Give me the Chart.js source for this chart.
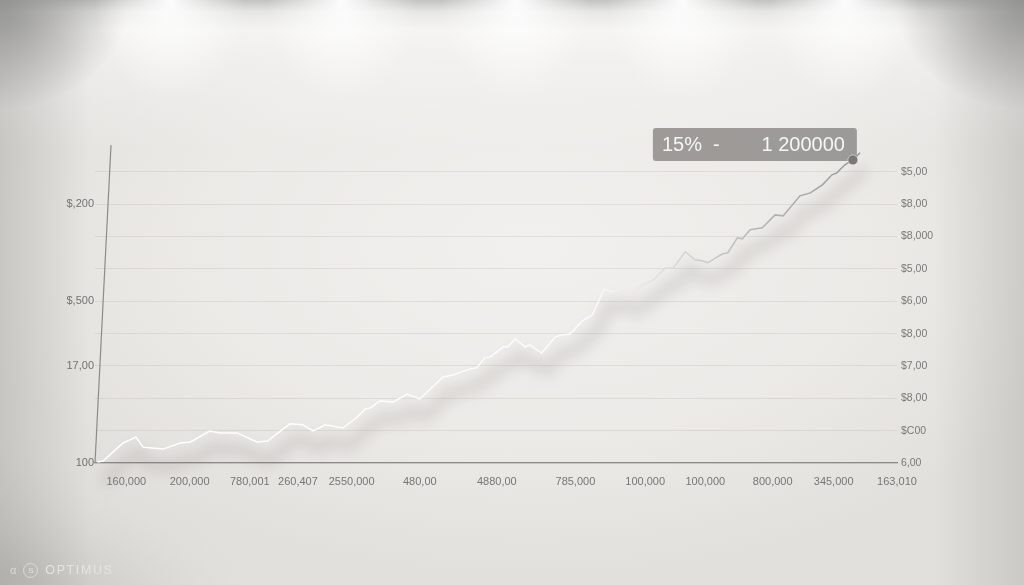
<!DOCTYPE html>
<html>
<head>
<meta charset="utf-8">
<script src="https://cdn.jsdelivr.net/npm/chart.js@4.4.1/dist/chart.umd.min.js"></script>
<style>
  html, body { margin: 0; padding: 0; }
  body {
    width: 1024px; height: 585px; overflow: hidden; position: relative;
    background-color: #e2e0dd;
    background-image:
      radial-gradient(ellipse 75px 100px at 170px 0px, rgba(255,255,255,0.95), rgba(255,255,255,0) 100%),
      radial-gradient(ellipse 75px 100px at 342px 0px, rgba(255,255,255,0.95), rgba(255,255,255,0) 100%),
      radial-gradient(ellipse 75px 100px at 516px 0px, rgba(255,255,255,0.95), rgba(255,255,255,0) 100%),
      radial-gradient(ellipse 75px 100px at 682px 0px, rgba(255,255,255,0.95), rgba(255,255,255,0) 100%),
      radial-gradient(ellipse 75px 100px at 845px 0px, rgba(255,255,255,0.95), rgba(255,255,255,0) 100%),
      linear-gradient(to bottom, rgba(150,150,150,0.55) 0px, rgba(170,170,170,0.2) 12px, rgba(200,200,200,0) 30px),
      radial-gradient(ellipse 130px 110px at 0px 0px, rgba(120,120,120,0.75), rgba(120,120,120,0) 100%),
      radial-gradient(ellipse 130px 110px at 1024px 0px, rgba(120,120,120,0.75), rgba(120,120,120,0) 100%),
      linear-gradient(to right, rgba(150,148,145,0.35) 0px, rgba(150,148,145,0) 90px),
      linear-gradient(to left, rgba(150,148,145,0.3) 0px, rgba(150,148,145,0) 90px),
      linear-gradient(to bottom, rgba(250,250,249,0.9) 0px, rgba(246,245,243,0.6) 60px, rgba(245,244,242,0) 150px),
      radial-gradient(ellipse 75% 75% at 52% 42%, #f1f0ee 0%, #eceae7 45%, #e2e0dd 75%, rgba(214,212,208,0) 100%),
      radial-gradient(ellipse 240px 150px at 0px 585px, rgba(185,183,179,0.85), rgba(185,183,179,0) 100%);
  }
  #wrap { position: absolute; left: 0; top: 0; width: 1024px; height: 585px; }
  #mark {
    position: absolute; left: 10px; top: 561px; height: 18px;
    font-family: "Liberation Sans", Arial, sans-serif; font-size: 12.5px;
    letter-spacing: 1.6px; color: #e6e4e1; display: flex; align-items: center;
  }
  #mark .ic { display: inline-block; width: 13px; height: 13px; border: 1.5px solid #dcdad7;
    border-radius: 50%; margin-right: 7px; font-size: 8px; line-height: 13px; text-align: center; letter-spacing: 0; }
  #mark .sm { font-size: 11px; margin-right: 7px; letter-spacing: 0; color: #dcdad7; }
</style>
</head>
<body>
<div id="wrap"><canvas id="c"></canvas></div>
<div id="mark"><span class="sm">&#945;</span><span class="ic">S</span>OPTIMUS</div>
<script>
// line series (x in % of the axis, y in grid steps)
const X_VALUES = [
  0.3, 1.0, 3.5, 5.1, 6.0, 7.1, 8.5, 10.6, 11.9, 14.3, 15.6, 17.7, 20.2, 21.5, 24.3, 25.9,
  27.2, 28.7, 30.9, 32.7, 33.7, 34.3, 35.5, 37.2, 38.9, 40.5, 43.4, 44.6, 46.8, 47.6, 48.6,
  49.3, 50.9, 51.5, 52.4, 53.6, 54.2, 55.7, 57.4, 58.2, 59.2, 60.9, 62.0, 63.5, 64.6, 65.7,
  67.1, 68.3, 69.6, 71.1, 72.1, 73.6, 74.8, 75.7, 76.4, 78.2, 78.9, 80.1, 80.7, 81.7, 83.2,
  84.8, 85.8, 87.9, 89.2, 90.7, 91.9, 92.5, 93.5, 94.5, 95.4
];
const Y_VALUES = [
  0.03, 0.06, 0.62, 0.80, 0.49, 0.46, 0.43, 0.62, 0.65, 0.99, 0.93, 0.93, 0.65, 0.68, 1.21, 1.18,
  0.99, 1.18, 1.08, 1.42, 1.67, 1.70, 1.92, 1.89, 2.13, 1.98, 2.66, 2.72, 2.91, 2.94, 3.25,
  3.28, 3.59, 3.59, 3.84, 3.59, 3.65, 3.40, 3.90, 3.96, 3.99, 4.42, 4.58, 5.38, 5.29, 5.41,
  5.23, 5.51, 5.66, 6.03, 6.03, 6.53, 6.28, 6.25, 6.19, 6.46, 6.50, 6.96, 6.93, 7.21, 7.27,
  7.67, 7.64, 8.26, 8.35, 8.60, 8.91, 8.97, 9.22, 9.37, 9.59
];

// bottom axis labels and where they sit
const X_TICK_POS = [3.9, 11.8, 19.3, 25.3, 32.0, 40.5, 50.1, 59.9, 68.6, 76.1, 84.5, 92.1, 100];
const X_TICK_LABELS = [
  '160,000', '200,000', '780,001', '260,407', '2550,000', '480,00', '4880,00',
  '785,000', '100,000', '100,000', '800,000', '345,000', '163,010'
];

// grid steps 0..9, bottom to top
const LEFT_LABELS  = ['100', '', '', '17,00', '', '$,500', '', '', '$,200', ''];
const RIGHT_LABELS = ['6,00', '$C00', '$8,00', '$7,00', '$8,00', '$6,00', '$5,00', '$8,000', '$8,00', '$5,00'];

const TIP_INDEX = 69;
const TIP_LEFT  = '15%  -';
const TIP_RIGHT = '1 200000';

const points = X_VALUES.map((x, i) => ({ x, y: Y_VALUES[i] }));
const FONT = '"Liberation Sans", Arial, sans-serif';

function lineGradient(c) {
  const area = c.chart.chartArea;
  if (!area) return '#ffffff';
  const g = c.chart.ctx.createLinearGradient(area.left, 0, area.right, 0);
  g.addColorStop(0, '#ffffff');
  g.addColorStop(0.62, '#fbfbfb');
  g.addColorStop(0.8, '#bdbdbd');
  g.addColorStop(1, '#8a8a8a');
  return g;
}

const decor = {
  id: 'decor',
  beforeDatasetDraw(chart, args) {
    if (args.index !== 1) return;
    const ctx = chart.ctx;
    ctx.save();
    ctx.filter = 'blur(7px)';
    ctx.translate(5, 17);
  },
  afterDatasetDraw(chart, args) {
    if (args.index !== 1) return;
    chart.ctx.restore();
  },
  beforeDatasetsDraw(chart) {
    const { ctx, chartArea } = chart;
    // slanted left axis
    ctx.save();
    ctx.strokeStyle = '#8c8b89';
    ctx.lineWidth = 1.2;
    ctx.beginPath();
    ctx.moveTo(chartArea.left + 16, chartArea.top - 1);
    ctx.lineTo(chartArea.left, chartArea.bottom);
    ctx.stroke();
    ctx.restore();

    // value box near the end of the line
    const pt = chart.getDatasetMeta(0).data[TIP_INDEX];
    if (!pt) return;
    ctx.save();
    ctx.fillStyle = 'rgba(136,134,131,0.8)';
    ctx.beginPath();
    ctx.roundRect(pt.x - 200, pt.y - 32, 204, 33, 3);
    ctx.fill();
    ctx.fillStyle = '#f6f6f5';
    ctx.font = '20px ' + FONT;
    ctx.textBaseline = 'middle';
    ctx.textAlign = 'left';
    ctx.fillText(TIP_LEFT, pt.x - 191, pt.y - 14);
    ctx.textAlign = 'right';
    ctx.fillText(TIP_RIGHT, pt.x - 8, pt.y - 14);
    ctx.restore();
  }
};

new Chart(document.getElementById('c'), {
  type: 'line',
  data: {
    datasets: [
      {
        data: points,
        borderColor: lineGradient,
        borderWidth: 1.5,
        tension: 0,
        pointRadius: c => (c.dataIndex === TIP_INDEX ? 5 : 0),
        pointBackgroundColor: '#7b7977',
        pointBorderColor: 'rgba(255,255,255,0.5)',
        pointBorderWidth: 1,
        fill: false,
      },
      {
        data: points,
        borderColor: 'rgba(105,100,95,0.2)',
        borderWidth: 10,
        tension: 0.5,
        pointRadius: 0,
        fill: false,
        clip: false,
      },
    ],
  },
  options: {
    responsive: true,
    maintainAspectRatio: false,
    animation: false,
    events: [],
    layout: { padding: { top: 146, left: 0, right: 0, bottom: 0 } },
    plugins: { legend: { display: false }, tooltip: { enabled: false } },
    scales: {
      x: {
        type: 'linear', min: 0, max: 100,
        afterFit: s => { s.height = 122; },
        afterBuildTicks: s => { s.ticks = X_TICK_POS.map(v => ({ value: v })); },
        ticks: {
          autoSkip: false, maxRotation: 0, padding: 4,
          font: { family: FONT, size: 11 }, color: '#777675',
          callback: (v, i) => X_TICK_LABELS[i],
        },
        grid: { display: false },
        border: { display: true, color: '#8d8c8a', width: 1.3 },
      },
      y: {
        min: 0, max: 9.8,
        afterFit: s => { s.width = 95; },
        afterBuildTicks: s => { s.ticks = LEFT_LABELS.map((_, i) => ({ value: i })); },
        ticks: {
          padding: 1, font: { family: FONT, size: 11 }, color: '#737270',
          callback: (v) => LEFT_LABELS[v],
        },
        grid: { color: 'rgba(160,155,150,0.2)', lineWidth: 1, drawTicks: false },
        border: { display: false },
      },
      y2: {
        position: 'right', min: 0, max: 9.8,
        afterFit: s => { s.width = 127; },
        afterBuildTicks: s => { s.ticks = RIGHT_LABELS.map((_, i) => ({ value: i })); },
        ticks: {
          padding: 4, font: { family: FONT, size: 10.5 }, color: '#7a7977',
          callback: (v) => RIGHT_LABELS[v],
        },
        grid: { display: false, drawTicks: false },
        border: { display: false },
      },
    },
  },
  plugins: [decor],
});
</script>
</body>
</html>
